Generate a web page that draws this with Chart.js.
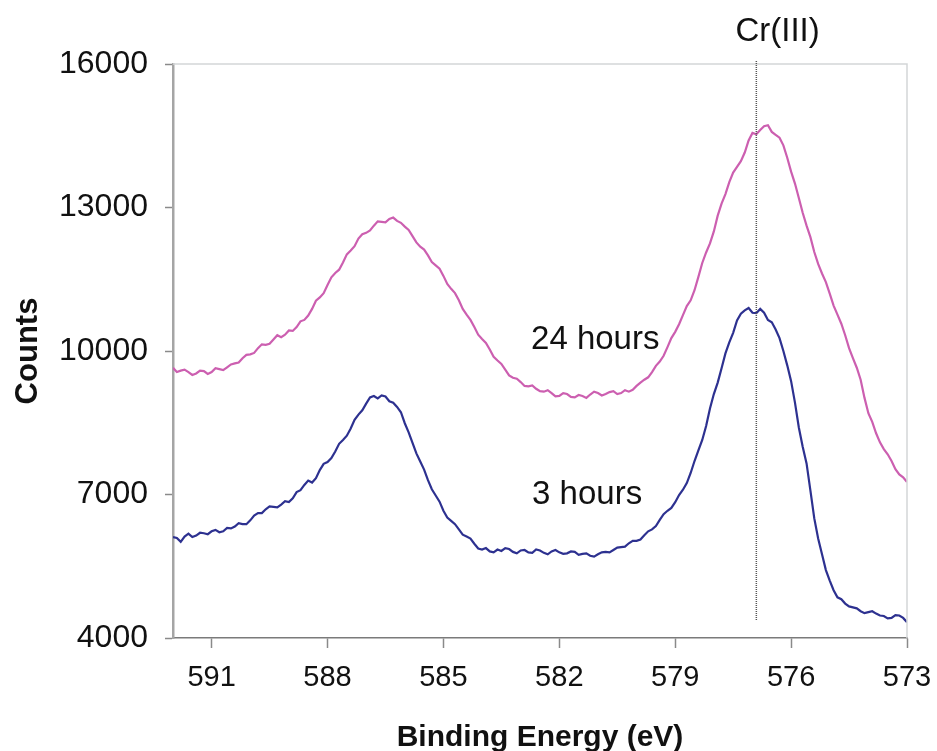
<!DOCTYPE html>
<html>
<head>
<meta charset="utf-8">
<title>Cr 2p XPS spectra</title>
<script src="https://cdn.jsdelivr.net/npm/chart.js"></script>
<style>
  html, body { margin: 0; padding: 0; background: #fff; }
  #wrap { width: 937px; height: 751px; }
</style>
</head>
<body>
<div id="wrap"><canvas id="xps" width="937" height="751"></canvas></div>
<script>
// binding energy grid (eV), high to low
const energies = [
  592.0, 591.9, 591.8, 591.7, 591.6, 591.5, 591.4, 591.3, 591.2, 591.1,
  591.0, 590.9, 590.8, 590.7, 590.6, 590.5, 590.4, 590.3, 590.2, 590.1,
  590.0, 589.9, 589.8, 589.7, 589.6, 589.5, 589.4, 589.3, 589.2, 589.1,
  589.0, 588.9, 588.8, 588.7, 588.6, 588.5, 588.4, 588.3, 588.2, 588.1,
  588.0, 587.9, 587.8, 587.7, 587.6, 587.5, 587.4, 587.3, 587.2, 587.1,
  587.0, 586.9, 586.8, 586.7, 586.6, 586.5, 586.4, 586.3, 586.2, 586.1,
  586.0, 585.9, 585.8, 585.7, 585.6, 585.5, 585.4, 585.3, 585.2, 585.1,
  585.0, 584.9, 584.8, 584.7, 584.6, 584.5, 584.4, 584.3, 584.2, 584.1,
  584.0, 583.9, 583.8, 583.7, 583.6, 583.5, 583.4, 583.3, 583.2, 583.1,
  583.0, 582.9, 582.8, 582.7, 582.6, 582.5, 582.4, 582.3, 582.2, 582.1,
  582.0, 581.9, 581.8, 581.7, 581.6, 581.5, 581.4, 581.3, 581.2, 581.1,
  581.0, 580.9, 580.8, 580.7, 580.6, 580.5, 580.4, 580.3, 580.2, 580.1,
  580.0, 579.9, 579.8, 579.7, 579.6, 579.5, 579.4, 579.3, 579.2, 579.1,
  579.0, 578.9, 578.8, 578.7, 578.6, 578.5, 578.4, 578.3, 578.2, 578.1,
  578.0, 577.9, 577.8, 577.7, 577.6, 577.5, 577.4, 577.3, 577.2, 577.1,
  577.0, 576.9, 576.8, 576.7, 576.6, 576.5, 576.4, 576.3, 576.2, 576.1,
  576.0, 575.9, 575.8, 575.7, 575.6, 575.5, 575.4, 575.3, 575.2, 575.1,
  575.0, 574.9, 574.8, 574.7, 574.6, 574.5, 574.4, 574.3, 574.2, 574.1,
  574.0, 573.9, 573.8, 573.7, 573.6, 573.5, 573.4, 573.3, 573.2, 573.1,
  573.0
];

// counts after 24 hours
const counts24h = [
  9650, 9560, 9590, 9610, 9560, 9500, 9530, 9590, 9580, 9520,
  9560, 9640, 9620, 9600, 9660, 9720, 9740, 9760, 9850, 9920,
  9930, 9960, 10060, 10140, 10130, 10150, 10240, 10330, 10290, 10340,
  10430, 10420, 10500, 10620, 10650, 10740, 10880, 11050, 11120, 11210,
  11380, 11540, 11630, 11700, 11850, 12020, 12100, 12190, 12350, 12440,
  12470, 12520, 12620, 12710, 12700, 12690, 12760, 12790, 12720, 12680,
  12600, 12530, 12400, 12270, 12180, 12120, 12000, 11860, 11790, 11720,
  11570, 11400, 11300, 11210, 11060, 10880, 10760, 10650, 10500, 10340,
  10250, 10170, 10030, 9880, 9800, 9730, 9610, 9490, 9440, 9420,
  9350, 9270, 9260, 9280, 9210, 9160, 9150, 9180, 9120, 9050,
  9060, 9120, 9100, 9040, 9030, 9080, 9060, 9020, 9090, 9150,
  9120, 9070, 9100, 9140, 9160, 9100, 9120, 9180, 9150, 9190,
  9270, 9340, 9400, 9450, 9560, 9690, 9780, 9900, 10080, 10270,
  10400, 10560, 10750, 10940, 11060, 11270, 11550, 11840, 12060, 12250,
  12500, 12830, 13080, 13280, 13530, 13730, 13850, 13970, 14150, 14400,
  14560, 14530, 14620, 14700, 14720, 14580, 14520, 14460, 14300, 14040,
  13750, 13500, 13200, 12890, 12620, 12380, 12070, 11820, 11620, 11440,
  11200, 10950, 10760, 10570, 10330, 10060, 9850, 9650, 9400, 9020,
  8700, 8520, 8280, 8090, 7950, 7840, 7700, 7530, 7420, 7360,
  7260
];

// counts after 3 hours
const counts3h = [
  6110, 6090, 6010, 6120, 6180, 6110, 6140, 6200, 6190, 6170,
  6230, 6260, 6210, 6230, 6300, 6290, 6330, 6400, 6380, 6380,
  6460, 6560, 6610, 6610, 6690, 6750, 6740, 6730, 6790, 6860,
  6840, 6920, 7050, 7090, 7200, 7290, 7250, 7340, 7510, 7640,
  7680, 7760, 7900, 8060, 8140, 8230, 8380, 8560, 8670, 8760,
  8900, 9030, 9060, 9010, 9070, 9050, 8950, 8920, 8830, 8720,
  8490, 8300, 8080, 7860, 7690, 7520, 7300, 7110, 6980, 6850,
  6660, 6520, 6450, 6380, 6270, 6160, 6120, 6080, 5970, 5870,
  5850, 5880, 5810, 5790, 5850, 5820, 5880, 5860, 5800, 5770,
  5830, 5840, 5790, 5780, 5850, 5830, 5780, 5750, 5810, 5840,
  5790, 5760, 5770, 5810, 5800, 5740, 5760, 5770, 5720, 5700,
  5750, 5790, 5800, 5790, 5840, 5890, 5900, 5910, 5980, 6030,
  6030, 6060, 6150, 6230, 6270, 6340, 6470, 6590, 6660, 6720,
  6840, 6990, 7100, 7240, 7450, 7700, 7920, 8140, 8430, 8800,
  9100, 9340, 9640, 9950, 10180, 10380, 10640, 10780, 10850, 10900,
  10800, 10790, 10880, 10800, 10650, 10600, 10450, 10270, 10000, 9700,
  9370, 8920, 8400, 8000, 7650, 7080, 6500, 6080, 5750, 5420,
  5200, 5000, 4850, 4810, 4720, 4660, 4640, 4620, 4560, 4520,
  4540, 4560, 4510, 4470, 4460, 4410, 4420, 4480, 4470, 4420,
  4330
];

const xTicks = [591, 588, 585, 582, 579, 576, 573];
const yTicks = [4000, 7000, 10000, 13000, 16000];

// reference line for Cr(III) and the curve labels (data coordinates)
const crLine = { energy: 576.9, from: 4370, label: 'Cr(III)', labelEnergy: 576.35, labelCounts: 16680 };
const curveLabels = [
  { text: '24 hours', energy: 581.07, counts: 10230 },
  { text: '3 hours', energy: 581.28, counts: 6990 }
];

const FONT = '"Liberation Sans", Arial, sans-serif';

const toPoints = (ys) => energies.map((e, i) => ({ x: e, y: ys[i] }));

const decorations = {
  id: 'decorations',
  afterDatasetsDraw(chart) {
    const { ctx, chartArea: a, scales: { x, y } } = chart;
    ctx.save();

    // light frame on top and right of the plot
    ctx.strokeStyle = '#d3d6d8';
    ctx.lineWidth = 1.5;
    ctx.beginPath();
    ctx.moveTo(a.left, a.top);
    ctx.lineTo(a.right, a.top);
    ctx.lineTo(a.right, a.bottom);
    ctx.stroke();

    // dotted Cr(III) marker
    const lx = x.getPixelForValue(crLine.energy);
    ctx.strokeStyle = '#555';
    ctx.lineWidth = 1.5;
    ctx.setLineDash([1, 1]);
    ctx.beginPath();
    ctx.moveTo(lx, a.top - 3);
    ctx.lineTo(lx, y.getPixelForValue(crLine.from));
    ctx.stroke();
    ctx.setLineDash([]);

    ctx.fillStyle = '#111';
    ctx.textAlign = 'center';
    ctx.textBaseline = 'middle';
    ctx.font = '33px ' + FONT;
    ctx.fillText(crLine.label, x.getPixelForValue(crLine.labelEnergy), y.getPixelForValue(crLine.labelCounts));

    curveLabels.forEach(l => {
      ctx.fillText(l.text, x.getPixelForValue(l.energy), y.getPixelForValue(l.counts));
    });
    ctx.restore();
  }
};

new Chart(document.getElementById('xps'), {
  type: 'line',
  data: {
    datasets: [
      {
        label: '24 hours',
        data: toPoints(counts24h),
        borderColor: '#cc5fb0',
        borderWidth: 2.2,
        pointRadius: 0,
        tension: 0
      },
      {
        label: '3 hours',
        data: toPoints(counts3h),
        borderColor: '#2d3190',
        borderWidth: 2.2,
        pointRadius: 0,
        tension: 0
      }
    ]
  },
  options: {
    responsive: false,
    animation: false,
    events: [],
    layout: { padding: { left: 0, right: 30, top: 64, bottom: 0 } },
    plugins: { legend: { display: false }, tooltip: { enabled: false } },
    scales: {
      x: {
        type: 'linear',
        reverse: true,
        min: 573,
        max: 592,
        afterBuildTicks: (s) => { s.ticks = xTicks.map(v => ({ value: v })); },
        afterFit: (s) => { s.height = 113; s.paddingLeft = 0; s.paddingRight = 0; },
        grid: { drawOnChartArea: false, drawTicks: true, tickLength: 10, tickColor: '#8a8a8a', tickWidth: 1.5 },
        border: { color: '#7a7a7a', width: 1.5 },
        ticks: {
          color: '#111',
          padding: 13,
          maxRotation: 0,
          font: { family: FONT, size: 29 },
          callback: (v) => String(v)
        },
        title: {
          display: true,
          text: 'Binding Energy (eV)',
          color: '#111',
          padding: { top: 0, bottom: 0 },
          font: { family: FONT, size: 30, weight: 'bold', lineHeight: 0.87 }
        }
      },
      y: {
        type: 'linear',
        min: 4000,
        max: 16000,
        afterBuildTicks: (s) => { s.ticks = yTicks.map(v => ({ value: v })); },
        afterFit: (s) => { s.width = 173; s.paddingTop = 0; s.paddingBottom = 0; },
        grid: { drawOnChartArea: false, drawTicks: true, tickLength: 8, tickColor: '#8a8a8a', tickWidth: 1.5 },
        border: { color: '#a5a5a5', width: 2.5 },
        ticks: {
          color: '#111',
          padding: 17,
          font: { family: FONT, size: 32 },
          callback: (v) => String(v)
        },
        title: {
          display: true,
          text: 'Counts',
          color: '#111',
          padding: { top: 15, bottom: 0 },
          font: { family: FONT, size: 31, weight: 'bold', lineHeight: 0.87 }
        }
      }
    }
  },
  plugins: [decorations]
});
</script>
</body>
</html>
